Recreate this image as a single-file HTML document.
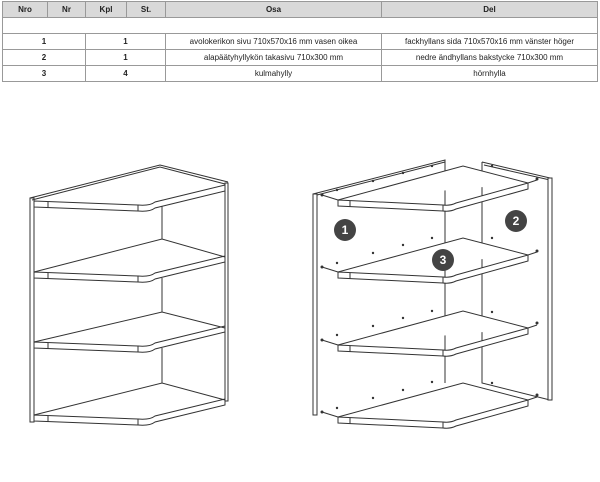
<!DOCTYPE html><html><head><style>
body{margin:0;background:#fff;width:600px;height:482px;overflow:hidden;font-family:"Liberation Sans",sans-serif}
table{position:absolute;left:2px;top:1px;border-collapse:collapse;font-size:8px;color:#222}
td{border:1px solid #999;text-align:center;padding:0;height:15px}
.h td{background:#d9d9d9;font-weight:bold;font-size:8px}
.b{font-weight:bold}
</style></head><body>
<table style="width:596px">
<tr class="h"><td style="width:44px">Nro</td><td style="width:37px">Nr</td><td style="width:40px">Kpl</td><td style="width:38px">St.</td><td style="width:215px">Osa</td><td>Del</td></tr>
<tr><td colspan="6"></td></tr>
<tr><td colspan="2" class="b">1</td><td colspan="2" class="b">1</td><td>avolokerikon sivu 710x570x16 mm vasen oikea</td><td>fackhyllans sida 710x570x16 mm vänster höger</td></tr>
<tr><td colspan="2" class="b">2</td><td colspan="2" class="b">1</td><td>alapäätyhyllykön takasivu 710x300 mm</td><td>nedre ändhyllans bakstycke 710x300 mm</td></tr>
<tr><td colspan="2" class="b">3</td><td colspan="2" class="b">4</td><td>kulmahylly</td><td>hörnhylla</td></tr>
</table>
<svg width="600" height="482" style="position:absolute;left:0;top:0" fill="none" stroke="#333" stroke-width="1">
<!-- left cabinet -->
<rect x="30" y="198" width="4" height="224" fill="#fff"/>
<path d="M30 198 L160 165 L228 182 M32 200 L160 167 L225 184"/>
<rect x="225" y="183" width="3" height="218" fill="#fff"/>
<path d="M162 205 V239 M162 278 V312 M162 348 V383"/>
<g id="ls">
<path d="M34 201 L138 205 Q150 206 155 202 L225 185 L225 191 L155 208 Q150 212 138 211 L34 207 Z" fill="#fff"/>
<path d="M138 205 V211 M48 202 V208"/>
</g>
<use href="#ls" y="71"/><use href="#ls" y="141"/><use href="#ls" y="214"/>
<path d="M34 272 L162 239 L225 257 M34 342 L162 312 L225 328 M34 415 L162 383 L225 400"/>
<!-- right cabinet -->
<rect x="313" y="194" width="4" height="221" fill="#fff"/>
<path d="M313 194 L445 160 V383 M317 195 L445 162"/>
<path d="M482 162 L550 178 M482 162 V383 L550 400 M484 165 L550 180"/>
<rect x="548" y="178" width="4" height="222" fill="#fff"/>
<g id="rs">
<path d="M338 200 L463 166 L528 183" fill="#fff"/>
<path d="M338 200 L443 205 Q450 206 456 203 L528 183 L528 189 L456 209 Q450 212 443 211 L338 206 Z" fill="#fff"/>
<path d="M443 205 V211 M350 201 V207"/>
<path d="M322 195 L338 200 M528 183 L537 180"/>
</g>
<use href="#rs" y="72"/><use href="#rs" y="145"/><use href="#rs" y="217"/>
<g fill="#333" stroke="none">
<circle cx="322" cy="195" r="1.5"/><circle cx="337" cy="190" r="1.2"/><circle cx="373" cy="181" r="1.2"/><circle cx="403" cy="173" r="1.2"/><circle cx="432" cy="166" r="1.2"/>
<circle cx="322" cy="267" r="1.5"/><circle cx="337" cy="263" r="1.2"/><circle cx="373" cy="253" r="1.2"/><circle cx="403" cy="245" r="1.2"/><circle cx="432" cy="238" r="1.2"/>
<circle cx="322" cy="340" r="1.5"/><circle cx="337" cy="335" r="1.2"/><circle cx="373" cy="326" r="1.2"/><circle cx="403" cy="318" r="1.2"/><circle cx="432" cy="311" r="1.2"/>
<circle cx="322" cy="412" r="1.5"/><circle cx="337" cy="408" r="1.2"/><circle cx="373" cy="398" r="1.2"/><circle cx="403" cy="390" r="1.2"/><circle cx="432" cy="382" r="1.2"/>
<circle cx="492" cy="166" r="1.2"/><circle cx="537" cy="179" r="1.5"/>
<circle cx="492" cy="238" r="1.2"/><circle cx="537" cy="251" r="1.5"/>
<circle cx="492" cy="312" r="1.2"/><circle cx="537" cy="323" r="1.5"/>
<circle cx="492" cy="383" r="1.2"/><circle cx="537" cy="395" r="1.5"/>
<circle cx="345" cy="230" r="11" fill="#444"/><circle cx="516" cy="221" r="11" fill="#444"/><circle cx="443" cy="260" r="11" fill="#444"/>
</g>
<g fill="#fff" stroke="none" font-family="Liberation Sans" font-weight="bold" font-size="12" text-anchor="middle">
<text x="345" y="234">1</text><text x="516" y="225">2</text><text x="443" y="264">3</text>
</g>
</svg>
</body></html>
